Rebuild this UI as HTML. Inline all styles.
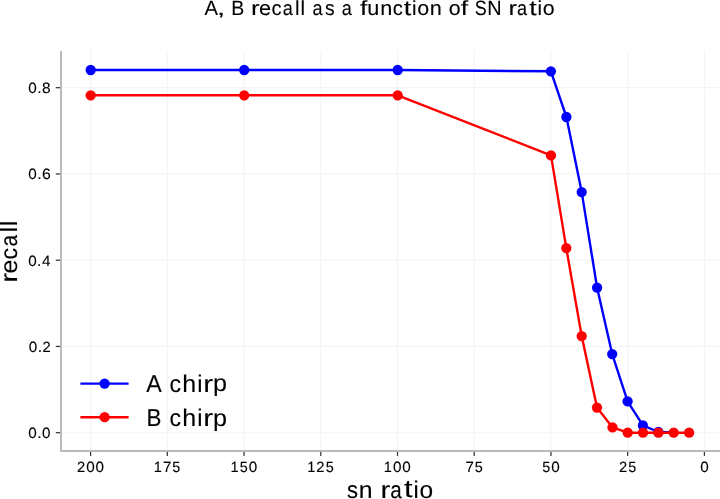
<!DOCTYPE html>
<html><head><meta charset="utf-8"><style>
html,body{margin:0;padding:0;background:#fff;width:720px;height:499px;overflow:hidden}
svg{display:block;will-change:transform}
text{font-family:"Liberation Sans",sans-serif;fill:#000;stroke:#000;stroke-width:0.1px;text-rendering:geometricPrecision}
</style></head><body>
<svg width="720" height="499" viewBox="0 0 720 499">
<rect x="0" y="0" width="720" height="499" fill="#ffffff"/>
<line x1="90.60" y1="51.0" x2="90.60" y2="451.0" stroke="#f3f3f3" stroke-width="1"/>
<line x1="167.32" y1="51.0" x2="167.32" y2="451.0" stroke="#f3f3f3" stroke-width="1"/>
<line x1="244.05" y1="51.0" x2="244.05" y2="451.0" stroke="#f3f3f3" stroke-width="1"/>
<line x1="320.77" y1="51.0" x2="320.77" y2="451.0" stroke="#f3f3f3" stroke-width="1"/>
<line x1="397.50" y1="51.0" x2="397.50" y2="451.0" stroke="#f3f3f3" stroke-width="1"/>
<line x1="474.23" y1="51.0" x2="474.23" y2="451.0" stroke="#f3f3f3" stroke-width="1"/>
<line x1="550.95" y1="51.0" x2="550.95" y2="451.0" stroke="#f3f3f3" stroke-width="1"/>
<line x1="627.67" y1="51.0" x2="627.67" y2="451.0" stroke="#f3f3f3" stroke-width="1"/>
<line x1="704.40" y1="51.0" x2="704.40" y2="451.0" stroke="#f3f3f3" stroke-width="1"/>
<line x1="61.0" y1="432.70" x2="720.0" y2="432.70" stroke="#f3f3f3" stroke-width="1"/>
<line x1="61.0" y1="346.45" x2="720.0" y2="346.45" stroke="#f3f3f3" stroke-width="1"/>
<line x1="61.0" y1="260.20" x2="720.0" y2="260.20" stroke="#f3f3f3" stroke-width="1"/>
<line x1="61.0" y1="173.95" x2="720.0" y2="173.95" stroke="#f3f3f3" stroke-width="1"/>
<line x1="61.0" y1="87.70" x2="720.0" y2="87.70" stroke="#f3f3f3" stroke-width="1"/>
<line x1="61.0" y1="51.0" x2="61.0" y2="452.0" stroke="#b9b9b9" stroke-width="2"/>
<line x1="60.0" y1="451.0" x2="720.0" y2="451.0" stroke="#b9b9b9" stroke-width="2"/>
<line x1="90.60" y1="452.0" x2="90.60" y2="455.9" stroke="#333333" stroke-width="1.25"/>
<line x1="167.32" y1="452.0" x2="167.32" y2="455.9" stroke="#333333" stroke-width="1.25"/>
<line x1="244.05" y1="452.0" x2="244.05" y2="455.9" stroke="#333333" stroke-width="1.25"/>
<line x1="320.77" y1="452.0" x2="320.77" y2="455.9" stroke="#333333" stroke-width="1.25"/>
<line x1="397.50" y1="452.0" x2="397.50" y2="455.9" stroke="#333333" stroke-width="1.25"/>
<line x1="474.23" y1="452.0" x2="474.23" y2="455.9" stroke="#333333" stroke-width="1.25"/>
<line x1="550.95" y1="452.0" x2="550.95" y2="455.9" stroke="#333333" stroke-width="1.25"/>
<line x1="627.67" y1="452.0" x2="627.67" y2="455.9" stroke="#333333" stroke-width="1.25"/>
<line x1="704.40" y1="452.0" x2="704.40" y2="455.9" stroke="#333333" stroke-width="1.25"/>
<line x1="60.0" y1="432.70" x2="55.8" y2="432.70" stroke="#333333" stroke-width="1.25"/>
<line x1="60.0" y1="346.45" x2="55.8" y2="346.45" stroke="#333333" stroke-width="1.25"/>
<line x1="60.0" y1="260.20" x2="55.8" y2="260.20" stroke="#333333" stroke-width="1.25"/>
<line x1="60.0" y1="173.95" x2="55.8" y2="173.95" stroke="#333333" stroke-width="1.25"/>
<line x1="60.0" y1="87.70" x2="55.8" y2="87.70" stroke="#333333" stroke-width="1.25"/>
<text transform="translate(81.13,471.80) scale(1.016,1.020)" x="-4.03" y="0" font-size="14.5">2</text><text transform="translate(90.55,471.85) scale(1.054,1.026)" x="-4.03" y="0" font-size="14.5">0</text><text transform="translate(99.77,471.85) scale(1.054,1.026)" x="-4.03" y="0" font-size="14.5">0</text>
<text transform="translate(158.06,471.80) scale(1.007,1.017)" x="-4.23" y="0" font-size="14.5">1</text><text transform="translate(167.14,471.80) scale(1.031,1.017)" x="-4.04" y="0" font-size="14.5">7</text><text transform="translate(176.31,471.85) scale(0.995,1.022)" x="-4.02" y="0" font-size="14.5">5</text>
<text transform="translate(234.64,471.80) scale(1.007,1.017)" x="-4.23" y="0" font-size="14.5">1</text><text transform="translate(243.66,471.85) scale(0.995,1.022)" x="-4.02" y="0" font-size="14.5">5</text><text transform="translate(252.96,471.85) scale(1.054,1.026)" x="-4.03" y="0" font-size="14.5">0</text>
<text transform="translate(311.51,471.80) scale(1.007,1.017)" x="-4.23" y="0" font-size="14.5">1</text><text transform="translate(320.42,471.80) scale(1.016,1.020)" x="-4.03" y="0" font-size="14.5">2</text><text transform="translate(329.76,471.85) scale(0.995,1.022)" x="-4.02" y="0" font-size="14.5">5</text>
<text transform="translate(388.09,471.80) scale(1.007,1.017)" x="-4.23" y="0" font-size="14.5">1</text><text transform="translate(397.18,471.85) scale(1.054,1.026)" x="-4.03" y="0" font-size="14.5">0</text><text transform="translate(406.41,471.85) scale(1.054,1.026)" x="-4.03" y="0" font-size="14.5">0</text>
<text transform="translate(469.63,471.80) scale(1.031,1.017)" x="-4.04" y="0" font-size="14.5">7</text><text transform="translate(478.80,471.85) scale(0.995,1.022)" x="-4.02" y="0" font-size="14.5">5</text>
<text transform="translate(546.19,471.85) scale(0.995,1.022)" x="-4.02" y="0" font-size="14.5">5</text><text transform="translate(555.48,471.85) scale(1.054,1.026)" x="-4.03" y="0" font-size="14.5">0</text>
<text transform="translate(622.97,471.80) scale(1.016,1.020)" x="-4.03" y="0" font-size="14.5">2</text><text transform="translate(632.32,471.85) scale(0.995,1.022)" x="-4.02" y="0" font-size="14.5">5</text>
<text transform="translate(704.40,471.85) scale(1.054,1.026)" x="-4.03" y="0" font-size="14.5">0</text>
<text transform="translate(32.51,438.05) scale(1.054,1.026)" x="-4.03" y="0" font-size="14.5">0</text><text transform="translate(39.43,438.00) scale(1.082,1.113)" x="-2.01" y="0" font-size="14.5">.</text><text transform="translate(46.35,438.05) scale(1.054,1.026)" x="-4.03" y="0" font-size="14.5">0</text>
<text transform="translate(33.00,351.80) scale(1.054,1.026)" x="-4.03" y="0" font-size="14.5">0</text><text transform="translate(39.91,351.75) scale(1.082,1.113)" x="-2.01" y="0" font-size="14.5">.</text><text transform="translate(46.64,351.75) scale(1.016,1.020)" x="-4.03" y="0" font-size="14.5">2</text>
<text transform="translate(32.36,265.55) scale(1.054,1.026)" x="-4.03" y="0" font-size="14.5">0</text><text transform="translate(39.28,265.50) scale(1.082,1.113)" x="-2.01" y="0" font-size="14.5">.</text><text transform="translate(46.15,265.50) scale(1.054,1.017)" x="-3.99" y="0" font-size="14.5">4</text>
<text transform="translate(32.46,179.30) scale(1.054,1.026)" x="-4.03" y="0" font-size="14.5">0</text><text transform="translate(39.38,179.25) scale(1.082,1.113)" x="-2.01" y="0" font-size="14.5">.</text><text transform="translate(46.35,179.30) scale(1.091,1.026)" x="-4.08" y="0" font-size="14.5">6</text>
<text transform="translate(32.54,93.05) scale(1.054,1.026)" x="-4.03" y="0" font-size="14.5">0</text><text transform="translate(39.45,93.00) scale(1.082,1.113)" x="-2.01" y="0" font-size="14.5">.</text><text transform="translate(46.38,93.05) scale(1.066,1.026)" x="-4.03" y="0" font-size="14.5">8</text>
<polyline points="90.70,70.00 244.20,70.00 397.70,70.00 550.90,71.30 566.40,117.00 581.70,192.10 597.10,287.70 612.20,354.10 627.60,401.30 642.90,425.40 658.40,432.00 673.70,432.50" fill="none" stroke="#0000ff" stroke-width="2.4" stroke-linejoin="round" stroke-linecap="butt"/><circle cx="90.70" cy="70.00" r="5.15" fill="#0000ff"/><circle cx="244.20" cy="70.00" r="5.15" fill="#0000ff"/><circle cx="397.70" cy="70.00" r="5.15" fill="#0000ff"/><circle cx="550.90" cy="71.30" r="5.15" fill="#0000ff"/><circle cx="566.40" cy="117.00" r="5.15" fill="#0000ff"/><circle cx="581.70" cy="192.10" r="5.15" fill="#0000ff"/><circle cx="597.10" cy="287.70" r="5.15" fill="#0000ff"/><circle cx="612.20" cy="354.10" r="5.15" fill="#0000ff"/><circle cx="627.60" cy="401.30" r="5.15" fill="#0000ff"/><circle cx="642.90" cy="425.40" r="5.15" fill="#0000ff"/><circle cx="658.40" cy="432.00" r="5.15" fill="#0000ff"/>
<polyline points="90.70,95.30 244.20,95.30 397.70,95.30 551.00,155.40 566.30,248.10 581.70,336.10 597.00,407.60 612.50,427.40 627.70,432.70 643.00,432.70 658.40,432.70 673.70,432.70 689.10,432.70" fill="none" stroke="#ff0000" stroke-width="2.4" stroke-linejoin="round" stroke-linecap="butt"/><circle cx="90.70" cy="95.30" r="5.15" fill="#ff0000"/><circle cx="244.20" cy="95.30" r="5.15" fill="#ff0000"/><circle cx="397.70" cy="95.30" r="5.15" fill="#ff0000"/><circle cx="551.00" cy="155.40" r="5.15" fill="#ff0000"/><circle cx="566.30" cy="248.10" r="5.15" fill="#ff0000"/><circle cx="581.70" cy="336.10" r="5.15" fill="#ff0000"/><circle cx="597.00" cy="407.60" r="5.15" fill="#ff0000"/><circle cx="612.50" cy="427.40" r="5.15" fill="#ff0000"/><circle cx="627.70" cy="432.70" r="5.15" fill="#ff0000"/><circle cx="643.00" cy="432.70" r="5.15" fill="#ff0000"/><circle cx="658.40" cy="432.70" r="5.15" fill="#ff0000"/><circle cx="673.70" cy="432.70" r="5.15" fill="#ff0000"/><circle cx="689.10" cy="432.70" r="5.15" fill="#ff0000"/>
<line x1="80.4" y1="383.6" x2="128.6" y2="383.6" stroke="#0000ff" stroke-width="2.4"/>
<circle cx="104.6" cy="383.6" r="5.15" fill="#0000ff"/>
<line x1="80.4" y1="417.2" x2="128.6" y2="417.2" stroke="#ff0000" stroke-width="2.4"/>
<circle cx="104.6" cy="417.2" r="5.15" fill="#ff0000"/>
<text transform="translate(154.02,391.60) scale(1.007,1.060)" x="-7.70" y="0" font-size="23.1">A</text><text transform="translate(175.54,391.69) scale(1.003,1.048)" x="-5.96" y="0" font-size="23.1">c</text><text transform="translate(189.35,391.60) scale(1.086,1.049)" x="-6.47" y="0" font-size="23.1">h</text><text transform="translate(199.82,391.60) scale(1.022,1.049)" x="-2.56" y="0" font-size="23.1">i</text><text transform="translate(208.82,391.60) scale(1.281,1.041)" x="-4.42" y="0" font-size="23.1">r</text><text transform="translate(220.27,391.46) scale(1.088,1.031)" x="-6.68" y="0" font-size="23.1">p</text>
<text transform="translate(154.27,425.70) scale(0.972,1.060)" x="-8.04" y="0" font-size="23.1">B</text><text transform="translate(175.49,425.79) scale(1.003,1.048)" x="-5.96" y="0" font-size="23.1">c</text><text transform="translate(189.31,425.70) scale(1.086,1.049)" x="-6.47" y="0" font-size="23.1">h</text><text transform="translate(199.78,425.70) scale(1.022,1.049)" x="-2.56" y="0" font-size="23.1">i</text><text transform="translate(208.78,425.70) scale(1.281,1.041)" x="-4.42" y="0" font-size="23.1">r</text><text transform="translate(220.23,425.56) scale(1.088,1.031)" x="-6.68" y="0" font-size="23.1">p</text>
<text transform="translate(211.11,15.35) scale(1.007,1.028)" x="-6.70" y="0" font-size="20.1">A</text><text transform="translate(220.98,15.06) scale(1.458,0.992)" x="-2.79" y="0" font-size="20.1">,</text><text transform="translate(237.94,15.35) scale(0.972,1.028)" x="-7.00" y="0" font-size="20.1">B</text><text transform="translate(255.99,15.35) scale(1.281,1.010)" x="-3.85" y="0" font-size="20.1">r</text><text transform="translate(264.98,15.43) scale(1.080,1.017)" x="-5.57" y="0" font-size="20.1">e</text><text transform="translate(276.60,15.43) scale(1.003,1.017)" x="-5.19" y="0" font-size="20.1">c</text><text transform="translate(288.04,15.43) scale(0.899,1.017)" x="-6.02" y="0" font-size="20.1">a</text><text transform="translate(297.31,15.35) scale(1.022,1.017)" x="-2.24" y="0" font-size="20.1">l</text><text transform="translate(302.89,15.35) scale(1.022,1.017)" x="-2.24" y="0" font-size="20.1">l</text><text transform="translate(317.92,15.43) scale(0.899,1.017)" x="-6.02" y="0" font-size="20.1">a</text><text transform="translate(329.68,15.43) scale(0.959,1.019)" x="-4.94" y="0" font-size="20.1">s</text><text transform="translate(347.10,15.43) scale(0.899,1.017)" x="-6.02" y="0" font-size="20.1">a</text><text transform="translate(363.91,15.35) scale(1.313,1.018)" x="-2.95" y="0" font-size="20.1">f</text><text transform="translate(373.34,15.42) scale(1.078,1.035)" x="-5.57" y="0" font-size="20.1">u</text><text transform="translate(386.20,15.35) scale(1.078,1.010)" x="-5.60" y="0" font-size="20.1">n</text><text transform="translate(397.96,15.43) scale(1.003,1.017)" x="-5.19" y="0" font-size="20.1">c</text><text transform="translate(407.53,15.19) scale(1.337,1.041)" x="-2.87" y="0" font-size="20.1">t</text><text transform="translate(414.24,15.35) scale(1.022,1.017)" x="-2.23" y="0" font-size="20.1">i</text><text transform="translate(423.18,15.43) scale(1.063,1.017)" x="-5.59" y="0" font-size="20.1">o</text><text transform="translate(435.75,15.35) scale(1.078,1.010)" x="-5.60" y="0" font-size="20.1">n</text><text transform="translate(454.60,15.43) scale(1.063,1.017)" x="-5.59" y="0" font-size="20.1">o</text><text transform="translate(464.71,15.35) scale(1.313,1.018)" x="-2.95" y="0" font-size="20.1">f</text><text transform="translate(480.70,15.42) scale(0.891,1.036)" x="-6.70" y="0" font-size="20.1">S</text><text transform="translate(494.49,15.35) scale(0.988,1.028)" x="-7.26" y="0" font-size="20.1">N</text><text transform="translate(513.44,15.35) scale(1.281,1.010)" x="-3.85" y="0" font-size="20.1">r</text><text transform="translate(522.51,15.43) scale(0.899,1.017)" x="-6.02" y="0" font-size="20.1">a</text><text transform="translate(532.95,15.19) scale(1.337,1.041)" x="-2.87" y="0" font-size="20.1">t</text><text transform="translate(539.66,15.35) scale(1.022,1.017)" x="-2.23" y="0" font-size="20.1">i</text><text transform="translate(548.60,15.43) scale(1.063,1.017)" x="-5.59" y="0" font-size="20.1">o</text>
<text transform="translate(352.41,497.69) scale(0.959,1.051)" x="-5.65" y="0" font-size="23.0">s</text><text transform="translate(365.69,497.60) scale(1.078,1.041)" x="-6.41" y="0" font-size="23.0">n</text><text transform="translate(386.00,497.60) scale(1.281,1.041)" x="-4.40" y="0" font-size="23.0">r</text><text transform="translate(396.37,497.69) scale(0.899,1.048)" x="-6.88" y="0" font-size="23.0">a</text><text transform="translate(408.32,497.41) scale(1.337,1.073)" x="-3.28" y="0" font-size="23.0">t</text><text transform="translate(415.99,497.60) scale(1.022,1.049)" x="-2.55" y="0" font-size="23.0">i</text><text transform="translate(426.22,497.69) scale(1.063,1.048)" x="-6.40" y="0" font-size="23.0">o</text>
<g transform="translate(17.35,280.7) rotate(-90)"><text transform="translate(3.68,0.00) scale(1.281,1.025)" x="-4.40" y="0" font-size="23.0">r</text><text transform="translate(13.96,0.09) scale(1.080,1.032)" x="-6.37" y="0" font-size="23.0">e</text><text transform="translate(27.26,0.09) scale(1.003,1.032)" x="-5.94" y="0" font-size="23.0">c</text><text transform="translate(40.36,0.09) scale(0.899,1.032)" x="-6.88" y="0" font-size="23.0">a</text><text transform="translate(50.96,0.00) scale(1.022,1.033)" x="-2.56" y="0" font-size="23.0">l</text><text transform="translate(57.35,0.00) scale(1.022,1.033)" x="-2.56" y="0" font-size="23.0">l</text></g>
</svg>
</body></html>
